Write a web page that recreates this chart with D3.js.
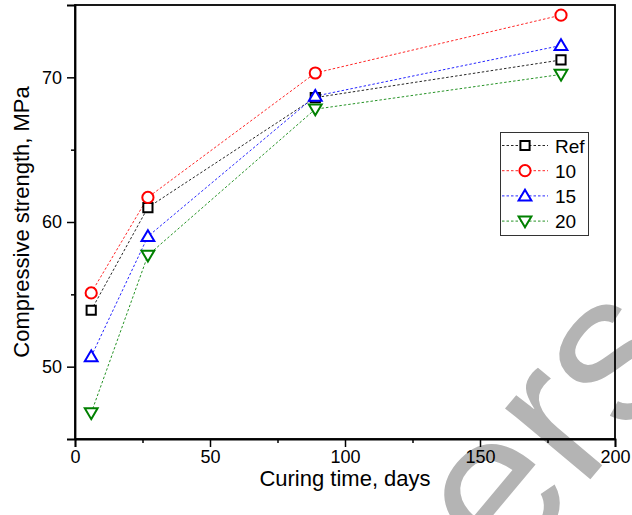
<!DOCTYPE html>
<html>
<head>
<meta charset="utf-8">
<script src="https://cdn.jsdelivr.net/npm/d3@7"></script>
<style>
  html, body { margin: 0; padding: 0; background: #fff; }
  svg { display: block; font-family: "Liberation Sans", Arial, sans-serif; }
</style>
</head>
<body>
<svg id="chart" width="632" height="515"></svg>
<script>
// ---- data ----
const days = [6, 27, 89, 180];
const seriesNames = ["Ref", "10", "15", "20"];
const refValues = [53.9, 61.0, 68.6, 71.2];
const s10Values = [55.1, 61.7, 70.3, 74.3];
const s15Values = [50.7, 59.0, 68.7, 72.2];
const s20Values = [46.8, 57.7, 67.8, 70.2];
const xTicks = [0, 50, 100, 150, 200];
const yTicks = [50, 60, 70];
const xTitle = "Curing time, days";
const yTitle = "Compressive strength, MPa";

const seriesColors = ["#000000", "#ff0000", "#0000ff", "#008000"];
const seriesShapes = ["square", "circle", "up", "down"];
const seriesValues = [refValues, s10Values, s15Values, s20Values];

const svg = d3.select("#chart");
const W = 632, H = 515;
const m = { left: 75, right: 632 - 615, top: 5, bottom: 515 - 439 };
const x = d3.scaleLinear().domain([0, 200]).range([m.left, W - m.right]);
const y = d3.scaleLinear().domain([45, 75]).range([H - m.bottom, m.top]);

// watermark (behind chart)
svg.append("text")
  .attr("transform", "translate(506,580) rotate(-50)")
  .attr("font-size", 210)
  .attr("fill", "#b4b4b4")
  .text("ers");

// axes
const ax = svg.append("g").attr("transform", `translate(0,${y.range()[0]})`)
  .call(d3.axisBottom(x).tickValues(xTicks).tickSize(8).tickPadding(3).tickFormat(d3.format("d")));
ax.selectAll("text").attr("font-size", 18).attr("fill", "#000");
svg.append("g").attr("transform", `translate(0,${y.range()[0]})`)
  .call(d3.axisBottom(x).tickValues([25, 75, 125, 175]).tickSize(4).tickFormat(""))
  .select(".domain").remove();

const ay = svg.append("g").attr("transform", `translate(${x.range()[0]},0)`)
  .call(d3.axisLeft(y).tickValues(yTicks).tickSize(8).tickPadding(5).tickFormat(d3.format("d")));
ay.selectAll("text").attr("font-size", 18).attr("fill", "#000");
svg.append("g").attr("transform", `translate(${x.range()[0]},0)`)
  .call(d3.axisLeft(y).tickValues([55, 65]).tickSize(4).tickFormat(""))
  .select(".domain").remove();

svg.selectAll(".tick line").attr("stroke", "#000").attr("stroke-width", 1.5);
svg.selectAll(".domain").attr("stroke", "#000").attr("stroke-width", 1.8);

// frame top/right
svg.append("rect")
  .attr("x", x.range()[0]).attr("y", y.range()[1])
  .attr("width", x.range()[1] - x.range()[0]).attr("height", y.range()[0] - y.range()[1])
  .attr("fill", "none").attr("stroke", "#000").attr("stroke-width", 1.8);

// titles
svg.append("text")
  .attr("x", (x.range()[0] + x.range()[1]) / 2).attr("y", 486)
  .attr("text-anchor", "middle").attr("font-size", 22).text(xTitle);
svg.append("text")
  .attr("transform", `translate(29,${(y.range()[0] + y.range()[1]) / 2}) rotate(-90)`)
  .attr("text-anchor", "middle").attr("font-size", 22).text(yTitle);

function markerPath(shape) {
  if (shape === "square") return "M-4.6,-4.6H4.6V4.6H-4.6Z";
  if (shape === "up") return "M0,-6.2L6.4,4.6L-6.4,4.6Z";
  return "M0,6.2L6.4,-4.6L-6.4,-4.6Z";
}
function circlePath() {
  const r = 5.6;
  return `M${r},0A${r},${r} 0 1,1 ${-r},0A${r},${r} 0 1,1 ${r},0Z`;
}

const line = d3.line().x((d, i) => x(days[i])).y(d => y(d));

// lines
seriesValues.forEach((vals, k) => {
  svg.append("path")
    .attr("d", line(vals))
    .attr("fill", "none")
    .attr("stroke", seriesColors[k])
    .attr("stroke-opacity", 0.85)
    .attr("stroke-width", 1)
    .attr("stroke-dasharray", "2.5,2");
});
// markers
seriesValues.forEach((vals, k) => {
  svg.append("g").selectAll("path").data(vals).join("path")
    .attr("transform", (d, i) => `translate(${x(days[i])},${y(d)})`)
    .attr("d", seriesShapes[k] === "circle" ? circlePath() : markerPath(seriesShapes[k]))
    .attr("fill", "#fff")
    .attr("stroke", seriesColors[k])
    .attr("stroke-width", 2);
});

// legend
const lg = svg.append("g");
lg.append("rect").attr("x", 500.5).attr("y", 132.5).attr("width", 88).attr("height", 103)
  .attr("fill", "#fff").attr("stroke", "#333").attr("stroke-width", 1);
seriesNames.forEach((name, k) => {
  const ry = 145.5 + k * 25.2;
  lg.append("line").attr("x1", 502).attr("x2", 548).attr("y1", ry).attr("y2", ry)
    .attr("stroke", seriesColors[k]).attr("stroke-opacity", 0.85).attr("stroke-width", 1).attr("stroke-dasharray", "2.5,2");
  lg.append("path").attr("transform", `translate(525,${ry})`)
    .attr("d", seriesShapes[k] === "circle" ? circlePath() : markerPath(seriesShapes[k]))
    .attr("fill", "#fff").attr("stroke", seriesColors[k]).attr("stroke-width", 2);
  lg.append("text").attr("x", 555).attr("y", ry + 7).attr("font-size", 19).text(name);
});
</script>
</body>
</html>
